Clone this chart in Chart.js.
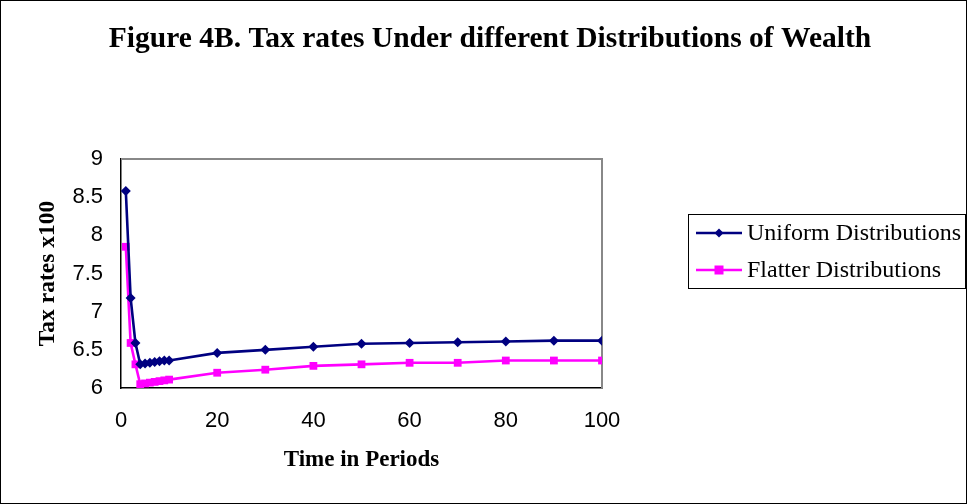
<!DOCTYPE html>
<html>
<head>
<meta charset="utf-8">
<script src="https://cdn.jsdelivr.net/npm/chart.js@4.4.1/dist/chart.umd.min.js"></script>
<style>
  html, body { margin: 0; padding: 0; background: #fff; }
  #wrap { position: relative; width: 967px; height: 504px; }
  canvas { display: block; }
</style>
</head>
<body>
<div id="wrap"><canvas id="c" width="967" height="504"></canvas></div>
<script>
// Periods at which the tax rate is reported
const periods = [1, 2, 3, 4, 5, 6, 7, 8, 9, 10, 20, 30, 40, 50, 60, 70, 80, 90, 100];
// Tax rates (x100) under each wealth distribution
const uniformRates = [8.58, 7.18, 6.59, 6.31, 6.32, 6.33, 6.34, 6.35, 6.36, 6.36, 6.46, 6.50, 6.54, 6.58, 6.59, 6.60, 6.61, 6.62, 6.62];
const flatterRates = [7.85, 6.59, 6.31, 6.05, 6.06, 6.07, 6.08, 6.09, 6.10, 6.11, 6.20, 6.24, 6.29, 6.31, 6.33, 6.33, 6.36, 6.36, 6.36];
const seriesNames = ['Uniform Distributions', 'Flatter Distributions'];
const chartTitle = 'Figure 4B. Tax rates Under different Distributions of Wealth';
const xTicks = [0, 20, 40, 60, 80, 100];
const yTicks = [6, 6.5, 7, 7.5, 8, 8.5, 9];

const toPoints = (vals) => periods.map((p, i) => ({ x: p, y: vals[i] }));

const NAVY = '#000080';
const MAGENTA = '#FF00FF';
const serif = '"Liberation Serif", "Times New Roman", serif';
const sans = '"Liberation Sans", Arial, sans-serif';

// Outer frame, heading, gray plot border and the boxed legend
const decorations = {
  id: 'decorations',
  beforeDatasetsDraw(chart) {
    const { ctx, chartArea: a } = chart;
    ctx.save();
    ctx.strokeStyle = '#888888';
    ctx.lineWidth = 2;
    ctx.beginPath();
    ctx.moveTo(a.left, a.top);
    ctx.lineTo(a.right, a.top);
    ctx.lineTo(a.right, a.bottom);
    ctx.stroke();
    ctx.restore();
  },
  afterDraw(chart) {
    const { ctx } = chart;
    ctx.save();
    ctx.strokeStyle = '#000';
    ctx.lineWidth = 1;
    ctx.strokeRect(0.5, 0.5, 966, 503);

    // heading
    ctx.fillStyle = '#000';
    ctx.font = 'bold 29.5px ' + serif;
    ctx.textAlign = 'center';
    ctx.textBaseline = 'middle';
    ctx.fillText(chartTitle, 490, 39);

    // legend box
    const lx = 688.5, ly = 214.5, lw = 277, lh = 74;
    ctx.strokeRect(lx, ly, lw, lh);
    const rows = [
      { name: seriesNames[0], color: NAVY, y: 233, marker: 'diamond' },
      { name: seriesNames[1], color: MAGENTA, y: 270, marker: 'square' }
    ];
    ctx.font = '24px ' + serif;
    ctx.textBaseline = 'middle';
    ctx.textAlign = 'left';
    rows.forEach(r => {
      ctx.strokeStyle = r.color;
      ctx.fillStyle = r.color;
      ctx.lineWidth = 2.5;
      ctx.beginPath();
      ctx.moveTo(696, r.y);
      ctx.lineTo(742, r.y);
      ctx.stroke();
      const cx = 719;
      if (r.marker === 'diamond') {
        ctx.beginPath();
        ctx.moveTo(cx, r.y - 4.5);
        ctx.lineTo(cx + 4.5, r.y);
        ctx.lineTo(cx, r.y + 4.5);
        ctx.lineTo(cx - 4.5, r.y);
        ctx.closePath();
        ctx.fill();
      } else {
        ctx.fillRect(cx - 4.5, r.y - 4.5, 9, 9);
      }
      ctx.fillStyle = '#000';
      ctx.fillText(r.name, 747, r.y + 1);
    });
    ctx.restore();
  }
};

new Chart(document.getElementById('c'), {
  type: 'line',
  data: {
    datasets: [
      {
        label: seriesNames[0],
        data: toPoints(uniformRates),
        borderColor: NAVY,
        backgroundColor: NAVY,
        borderWidth: 2.6,
        pointStyle: 'rectRot',
        pointRadius: 5,
        pointBorderWidth: 0,
        tension: 0
      },
      {
        label: seriesNames[1],
        data: toPoints(flatterRates),
        borderColor: MAGENTA,
        backgroundColor: MAGENTA,
        borderWidth: 2.6,
        pointStyle: 'rect',
        pointRadius: 5.5,
        pointBorderWidth: 0,
        tension: 0
      }
    ]
  },
  options: {
    responsive: false,
    animation: false,
    devicePixelRatio: 1,
    layout: { padding: { left: 0, right: 365, top: 159, bottom: 0 } },
    plugins: {
      legend: { display: false },
      tooltip: { enabled: false },
      title: { display: false }
    },
    scales: {
      x: {
        type: 'linear',
        min: 0,
        max: 100,
        afterBuildTicks(scale) { scale.ticks = xTicks.map(v => ({ value: v })); },
        afterFit(scale) { scale.height = 116; },
        grid: { display: false, drawOnChartArea: false, drawTicks: true, tickLength: 7, tickColor: '#000' },
        border: { display: true, color: '#000', width: 1.5 },
        ticks: { color: '#000', font: { family: sans, size: 22 }, padding: 13, maxRotation: 0 },
        title: {
          display: true,
          text: 'Time in Periods',
          color: '#000',
          font: { family: serif, size: 23, weight: 'bold', lineHeight: 1.2 },
          padding: { top: 0, bottom: 30 }
        }
      },
      y: {
        type: 'linear',
        min: 6,
        max: 9,
        afterBuildTicks(scale) { scale.ticks = yTicks.map(v => ({ value: v })); },
        afterFit(scale) { scale.width = 121; },
        grid: { display: false, drawOnChartArea: false, drawTicks: true, tickLength: 6, tickColor: '#000' },
        border: { display: true, color: '#000', width: 1.5 },
        ticks: {
          color: '#000',
          font: { family: sans, size: 22 },
          padding: 12,
          callback: (v) => String(v)
        },
        title: {
          display: true,
          text: 'Tax rates x100',
          color: '#000',
          font: { family: serif, size: 23.5, weight: 'bold', lineHeight: 1.2 },
          padding: { top: 34, bottom: 0 }
        }
      }
    }
  },
  plugins: [decorations]
});
</script>
</body>
</html>
